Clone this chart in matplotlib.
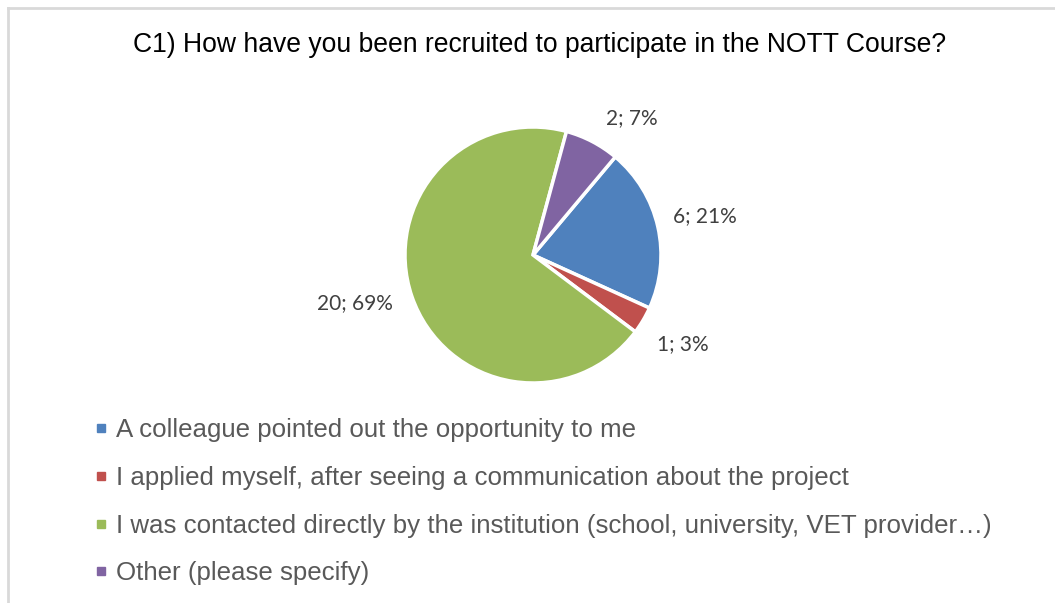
import matplotlib
matplotlib.use("Agg")
import matplotlib.pyplot as plt
import numpy as np
from matplotlib.lines import Line2D

title = "C1) How have you been recruited to participate in the NOTT Course?"
categories = [
    "A colleague pointed out the opportunity to me",
    "I applied myself, after seeing a communication about the project",
    "I was contacted directly by the institution (school, university, VET provider\u2026)",
    "Other (please specify)",
]
counts = [6, 1, 20, 2]
percents = [21, 3, 69, 7]
colors = ["#4F81BD", "#C0504D", "#9BBB59", "#8064A2"]

W, H = 1055, 603
fig = plt.figure(figsize=(W / 100, H / 100), dpi=100)
fig.patch.set_facecolor("white")

# chart frame (top and left edges)
fig.add_artist(Line2D([8 / W, 1], [1 - 8 / H, 1 - 8 / H], color="#d9d9d9", lw=2))
fig.add_artist(Line2D([8 / W, 8 / W], [0, 1 - 8 / H], color="#d9d9d9", lw=2))

fig.text(540 / W, 1 - 45 / H, title, ha="center", va="center",
         fontsize=19.1, family="Liberation Sans", color="black")

cx, cy, r = 533, 255, 128
ax = fig.add_axes([(cx - r) / W, (H - cy - r) / H, 2 * r / W, 2 * r / H])
wedges, _ = ax.pie(counts, colors=colors, startangle=50, counterclock=False,
                   wedgeprops=dict(edgecolor="white", linewidth=2.5))
ax.set_xlim(-1, 1)
ax.set_ylim(-1, 1)
ax.set_aspect("equal")
ax.axis("off")

# data labels outside each slice
label_r = [1.38, 1.36, 1.44, 1.32]
label_nudge = [0, 0, -4, -8]
for w, c, p, lr, dn in zip(wedges, counts, percents, label_r, label_nudge):
    mid = np.deg2rad((w.theta1 + w.theta2) / 2 + dn)
    ax.text(lr * np.cos(mid), lr * np.sin(mid), f"{c}; {p}%", ha="center",
            va="center", fontsize=15, family="Lato", color="#404040",
            clip_on=False)

handles = [Line2D([], [], marker="s", ls="", markersize=5.8, color=col)
           for col in colors]
leg = fig.legend(handles, categories, loc="upper left",
                 bbox_to_anchor=(94.5 / W, 1 - 418.5 / H), frameon=False,
                 prop=dict(family="Liberation Sans", size=18.6),
                 labelcolor="#595959", handlelength=0.48, handletextpad=0.34,
                 labelspacing=0.915, borderpad=0, borderaxespad=0)

fig.savefig("out.png", dpi=100)
